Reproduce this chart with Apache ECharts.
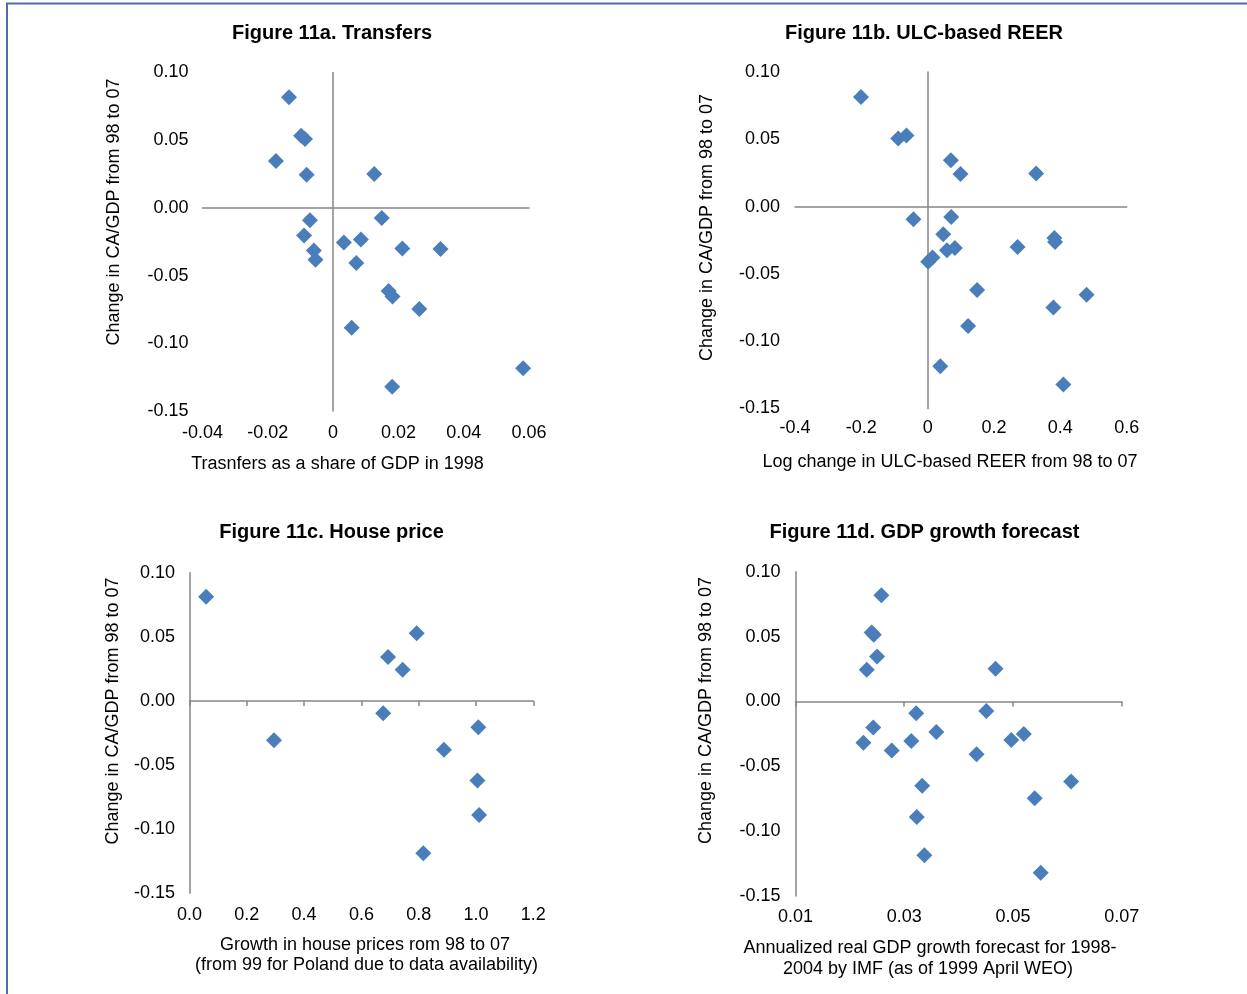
<!DOCTYPE html>
<html><head><meta charset="utf-8">
<script src="https://cdn.jsdelivr.net/npm/echarts@6/dist/echarts.min.js"></script>
<style>html,body{margin:0;padding:0;background:#fff}#c{width:1247px;height:994px}</style>
</head><body><div id="c"></div><script>
// ---- Data ----
const transfersX = [-0.0135,-0.0098,-0.0086,-0.0175,-0.0081,0.0126,-0.0071,0.0149,-0.0089,0.0033,0.0085,-0.0059,-0.0054,0.0212,0.0329,0.0071,0.0170,0.0182,0.0264,0.0057,0.0181,0.0582];
const transfersY = [0.0818,0.0533,0.0508,0.0346,0.0245,0.0250,-0.0092,-0.0075,-0.0203,-0.0255,-0.0233,-0.0314,-0.0383,-0.0299,-0.0304,-0.0407,-0.0614,-0.0654,-0.0747,-0.0885,-0.1320,-0.1185];
const reerX = [-0.201,-0.089,-0.064,0.070,0.099,0.327,-0.043,0.071,0.047,0.058,0.082,0.0015,0.0145,0.271,0.382,0.384,0.149,0.479,0.379,0.122,0.038,0.409];
const reerY = [0.0815,0.0506,0.0528,0.0344,0.0242,0.0245,-0.0094,-0.0077,-0.0206,-0.0325,-0.0308,-0.0409,-0.0379,-0.0300,-0.0233,-0.0263,-0.0620,-0.0654,-0.0749,-0.0888,-0.1187,-0.1321];
const houseX = [0.058,0.295,0.793,0.693,0.744,0.676,1.008,0.888,1.005,1.011,0.816];
const houseY = [0.0813,-0.0307,0.0527,0.0343,0.0244,-0.0096,-0.0205,-0.0380,-0.0621,-0.0889,-0.1187];
const gdpX = [0.0258,0.0240,0.0244,0.0250,0.0231,0.0468,0.0322,0.0451,0.0243,0.0225,0.0313,0.0277,0.0359,0.0433,0.0497,0.0520,0.0607,0.0333,0.0540,0.0323,0.0337,0.0551];
const gdpY = [0.0819,0.0531,0.0513,0.0346,0.0245,0.0251,-0.0091,-0.0073,-0.0202,-0.0318,-0.0305,-0.0379,-0.0235,-0.0407,-0.0297,-0.0251,-0.0618,-0.0651,-0.0746,-0.0891,-0.1186,-0.1320];

const yTicks = [-0.15,-0.10,-0.05,0,0.05,0.10];
const yTickLabels = ['-0.15','-0.10','-0.05','0.00','0.05','0.10'];
const xTicksA = [-0.04,-0.02,0,0.02,0.04,0.06];
const xTickLabelsA = ['-0.04','-0.02','0','0.02','0.04','0.06'];
const xTicksB = [-0.4,-0.2,0,0.2,0.4,0.6];
const xTickLabelsB = ['-0.4','-0.2','0','0.2','0.4','0.6'];
const xTicksC = [0,0.2,0.4,0.6,0.8,1.0,1.2];
const xTickLabelsC = ['0.0','0.2','0.4','0.6','0.8','1.0','1.2'];
const xTicksD = [0.01,0.03,0.05,0.07];
const xTickLabelsD = ['0.01','0.03','0.05','0.07'];

const titles = ['Figure 11a. Transfers','Figure 11b. ULC-based REER','Figure 11c. House price','Figure 11d. GDP growth forecast'];
const yName = 'Change in CA/GDP from 98 to 07';
const xNames = [
  ['Trasnfers as a share of GDP in 1998'],
  ['Log change in ULC-based REER from 98 to 07'],
  ['Growth in house prices rom 98 to 07','(from 99 for Poland due to data availability)'],
  ['Annualized real GDP growth forecast for 1998-','2004 by IMF (as of 1999 April WEO)']
];

// ---- Layout ----
const FONT = '"Liberation Sans", Arial, sans-serif';
const AXIS_COLOR = '#868686';
const PT_COLOR = '#4A7EBB';
const panels = [
  {grid:{left:202.5,top:72.5,width:326.5,height:338.5}, xs:transfersX, ys:transfersY, xt:xTicksA, xl:xTickLabelsA, xTickShow:false, xm:13, ym:14,
   title:[332,33], yname:[114,212], xname:[[337.5,464]]},
  {grid:{left:795,top:72,width:331.7,height:336.5}, xs:reerX, ys:reerY, xt:xTicksB, xl:xTickLabelsB, xTickShow:false, xm:11, ym:15,
   title:[924,33], yname:[707,227.5], xname:[[950,462]]},
  {grid:{left:189.5,top:572.7,width:343.8,height:320.6}, xs:houseX, ys:houseY, xt:xTicksC, xl:xTickLabelsC, xTickShow:true, xm:13, ym:14.5,
   title:[331.5,532], yname:[113,711], xname:[[365,945],[366.5,965]]},
  {grid:{left:795.5,top:571.7,width:326.2,height:324.3}, xs:gdpX, ys:gdpY, xt:xTicksD, xl:xTickLabelsD, xTickShow:true, xm:12, ym:15,
   title:[924.5,532], yname:[706,710.5], xname:[[930,948],[928,969]]}
];

function lookup(ticks, labels){
  return function(v){
    const i = ticks.findIndex(t => Math.abs(t - v) < 1e-9);
    return i >= 0 ? labels[i] : '';
  };
}

const grid = [], xAxis = [], yAxis = [], series = [], graphic = [];
panels.forEach((p, g) => {
  grid.push(p.grid);
  const xmin = p.xt[0], xmax = p.xt[p.xt.length-1];
  xAxis.push({type:'value', gridIndex:g, min:xmin, max:xmax, position:'bottom',
    axisLine:{show:true, onZero:true, lineStyle:{color:AXIS_COLOR, width:1.5}},
    axisTick:{show:p.xTickShow, inside:false, length:5, customValues:p.xt, lineStyle:{color:AXIS_COLOR, width:1.5}},
    axisLabel:{show:false}, splitLine:{show:false}});
  xAxis.push({type:'value', gridIndex:g, min:xmin, max:xmax, position:'bottom',
    axisLine:{show:false, onZero:false}, axisTick:{show:false},
    axisLabel:{show:true, customValues:p.xt, formatter:lookup(p.xt, p.xl), margin:p.xm, fontSize:18, color:'#000', fontFamily:FONT},
    splitLine:{show:false}});
  yAxis.push({type:'value', gridIndex:g, min:-0.15, max:0.10, position:'left',
    axisLine:{show:true, onZero:true, lineStyle:{color:AXIS_COLOR, width:1.5}},
    axisTick:{show:false}, axisLabel:{show:false}, splitLine:{show:false}});
  yAxis.push({type:'value', gridIndex:g, min:-0.15, max:0.10, position:'left',
    axisLine:{show:false, onZero:false}, axisTick:{show:false},
    axisLabel:{show:true, customValues:yTicks, formatter:lookup(yTicks, yTickLabels), margin:p.ym, fontSize:18, color:'#000', fontFamily:FONT},
    splitLine:{show:false}});
  series.push({type:'scatter', xAxisIndex:2*g, yAxisIndex:2*g, symbol:'diamond', symbolSize:16,
    itemStyle:{color:PT_COLOR, opacity:1}, data:p.xs.map((x,i)=>[x, p.ys[i]]), animation:false});
  graphic.push({type:'text', x:p.title[0], y:p.title[1], style:{text:titles[g], font:'bold 20px '+FONT, fill:'#000', textAlign:'center', textVerticalAlign:'middle'}});
  graphic.push({type:'text', x:p.yname[0], y:p.yname[1], rotation:Math.PI/2, style:{text:yName, font:'18px '+FONT, fill:'#000', textAlign:'center', textVerticalAlign:'middle'}});
  xNames[g].forEach((t,k)=>{
    graphic.push({type:'text', x:p.xname[k][0], y:p.xname[k][1], style:{text:t, font:'18px '+FONT, fill:'#000', textAlign:'center', textVerticalAlign:'middle'}});
  });
});
graphic.push({type:'rect', shape:{x:7,y:3.5,width:1400,height:1200}, style:{fill:'none', stroke:'#4A6FA5', lineWidth:2}, z:100});

const chart = echarts.init(document.getElementById('c'), null, {renderer:'canvas'});
chart.setOption({animation:false, backgroundColor:'#fff', grid, xAxis, yAxis, series, graphic});
</script></body></html>
